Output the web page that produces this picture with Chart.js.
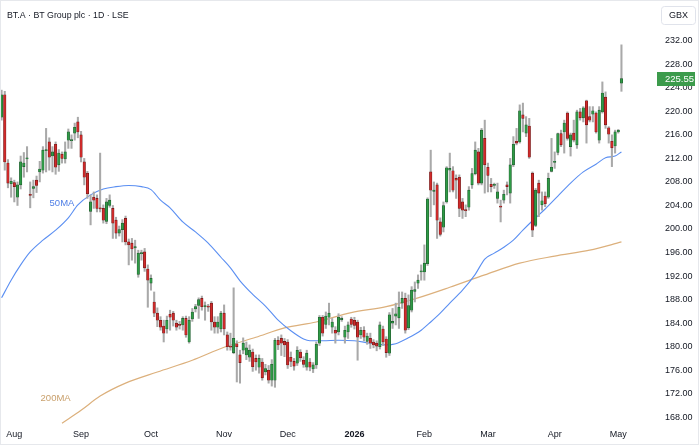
<!DOCTYPE html>
<html>
<head>
<meta charset="utf-8">
<title>BT.A · BT Group plc · 1D · LSE</title>
<script src="https://cdn.jsdelivr.net/npm/chart.js@4.4.1/dist/chart.umd.min.js"></script>
<style>
  html, body { margin: 0; padding: 0; background: #fff; }
  #wrap { position: relative; width: 700px; height: 447px; }
</style>
</head>
<body>
<div id="wrap"><canvas id="chart" width="700" height="447"></canvas></div>
<script>
// Chart text
const TITLE = 'BT.A · BT Group plc · 1D · LSE';
const CURRENCY = 'GBX';
const LAST_PRICE = 225.55;

// Daily candles, late Jul 2025 to early May 2026
const OPEN = [
  219.0, 222.8, 211.2, 207.7, 207.9, 205.4, 207.5, 210.6, 211.9, 205.9,
  206.9, 208.3, 209.7, 210.0, 213.3, 214.8, 212.4, 214.4, 210.9, 212.7,
  211.9, 215.1, 215.0, 216.3, 218.2, 216.0, 211.4, 209.5, 203.0, 205.4,
  205.2, 203.6, 203.5, 201.3, 204.0, 203.5, 201.5, 199.3, 199.9, 201.8,
  197.8, 197.6, 196.8, 192.3, 195.8, 196.1, 193.2, 190.8, 187.6, 185.7,
  184.5, 183.5, 183.0, 185.5, 185.7, 184.0, 183.8, 183.7, 184.8, 180.8,
  184.7, 186.4, 187.0, 188.2, 186.8, 186.9, 187.4, 184.2, 183.3, 183.0,
  185.7, 182.0, 180.1, 179.0, 180.5, 178.6, 179.4, 178.6, 178.2, 179.1,
  178.0, 176.5, 177.4, 175.7, 176.0, 174.3, 174.3, 181.1, 181.4, 180.9,
  180.8, 178.2, 177.5, 177.2, 179.1, 177.7, 176.5, 177.4, 176.2, 176.9,
  180.6, 185.0, 183.8, 185.0, 183.3, 182.8, 182.5, 184.6, 181.6, 182.5,
  184.7, 184.5, 184.2, 182.0, 182.8, 180.9, 181.4, 180.8, 180.6, 180.0,
  183.0, 181.3, 178.9, 184.0, 185.2, 184.9, 187.4, 188.2, 183.2, 186.2,
  189.4, 190.8, 192.7, 192.7, 194.1, 209.7, 206.4, 207.5, 201.2, 200.3,
  204.6, 210.0, 209.9, 208.6, 208.8, 204.6, 203.3, 203.7, 207.5, 209.4,
  213.1, 207.8, 215.4, 210.5, 207.6, 207.4, 205.2, 203.9, 204.9, 207.5,
  206.1, 210.9, 214.9, 214.8, 219.4, 216.3, 217.5, 209.5, 200.6, 207.8,
  204.1, 205.6, 205.4, 209.8, 211.3, 213.0, 216.2, 216.5, 219.7, 214.0,
  216.3, 214.3, 219.9, 218.9, 221.8, 219.1, 219.5, 219.7, 215.1, 219.9,
  222.4, 217.2, 214.9, 214.1, 216.5, 224.8
];
const HIGH = [
  223.6, 223.4, 211.8, 208.7, 208.3, 208.0, 212.4, 213.0, 214.0, 208.0,
  208.3, 209.0, 211.5, 214.0, 217.1, 215.5, 214.0, 214.8, 213.5, 213.1,
  214.8, 217.0, 216.0, 218.0, 219.0, 216.6, 212.0, 209.8, 205.8, 206.3,
  205.8, 212.9, 204.1, 205.2, 205.8, 204.0, 202.0, 200.5, 201.6, 202.2,
  198.3, 198.4, 198.1, 196.4, 196.4, 196.7, 193.9, 192.2, 189.3, 186.6,
  185.1, 184.5, 185.2, 186.2, 186.0, 184.5, 184.3, 185.1, 185.2, 185.1,
  186.5, 187.2, 188.3, 188.6, 187.6, 187.2, 187.7, 185.1, 185.1, 186.0,
  187.1, 182.5, 182.3, 190.0, 181.0, 179.4, 181.5, 180.8, 180.3, 179.6,
  178.6, 178.6, 178.0, 177.0, 176.8, 177.8, 181.4, 181.7, 182.0, 181.4,
  181.2, 179.1, 178.0, 180.0, 179.5, 178.3, 179.4, 178.0, 177.3, 180.8,
  185.3, 185.3, 185.9, 187.4, 184.8, 183.4, 185.6, 185.1, 183.5, 184.2,
  185.0, 185.0, 184.5, 183.3, 183.4, 182.3, 182.3, 181.2, 181.0, 184.2,
  183.5, 181.7, 185.8, 186.5, 187.4, 189.3, 189.3, 189.1, 188.8, 190.2,
  191.0, 192.2, 193.9, 197.3, 205.3, 213.4, 208.0, 207.8, 201.9, 204.6,
  210.6, 212.9, 210.6, 209.2, 209.2, 205.2, 204.1, 207.2, 210.3, 214.8,
  213.7, 217.1, 218.5, 211.2, 208.6, 207.8, 207.8, 204.9, 206.6, 208.0,
  212.0, 215.7, 217.1, 221.1, 221.4, 219.1, 218.8, 209.7, 206.9, 208.3,
  206.3, 206.3, 209.5, 215.4, 213.1, 216.3, 216.8, 218.5, 219.9, 216.3,
  218.5, 220.2, 220.5, 220.8, 221.9, 220.8, 220.8, 219.9, 220.8, 225.0,
  223.3, 217.4, 216.0, 216.8, 216.9, 231.3
];
const LOW = [
  218.5, 210.0, 207.0, 205.4, 204.6, 204.0, 206.8, 208.8, 209.7, 203.6,
  205.3, 206.2, 208.0, 209.5, 209.7, 210.0, 209.7, 209.3, 209.8, 211.2,
  211.2, 213.7, 213.7, 215.1, 215.5, 211.4, 207.5, 205.2, 200.7, 203.5,
  202.9, 202.9, 201.0, 200.9, 203.7, 198.4, 198.4, 198.8, 197.8, 197.3,
  193.9, 194.7, 194.2, 191.8, 194.7, 192.8, 186.7, 189.6, 185.1, 183.4,
  182.8, 180.8, 182.3, 182.8, 183.5, 182.8, 183.0, 182.8, 181.6, 180.6,
  184.3, 185.9, 184.8, 186.2, 184.5, 186.0, 182.8, 182.3, 182.3, 182.5,
  182.0, 179.4, 179.4, 178.8, 174.0, 173.8, 178.8, 177.8, 177.5, 175.8,
  176.0, 175.5, 174.3, 175.2, 173.8, 173.3, 173.1, 179.5, 178.5, 178.3,
  176.3, 176.6, 176.0, 176.8, 177.5, 176.5, 176.0, 175.9, 175.6, 176.3,
  180.2, 181.8, 183.1, 183.7, 182.3, 180.6, 182.0, 184.3, 180.6, 181.4,
  183.3, 183.0, 177.7, 181.4, 181.0, 180.4, 179.7, 179.8, 179.3, 179.6,
  180.2, 178.2, 178.5, 183.1, 183.7, 183.1, 186.5, 182.3, 182.9, 185.9,
  187.6, 189.9, 191.3, 191.3, 193.8, 202.1, 204.1, 198.4, 198.8, 199.5,
  204.4, 206.3, 206.3, 205.2, 202.1, 201.8, 202.1, 203.2, 206.9, 209.2,
  207.5, 207.5, 206.1, 206.3, 206.3, 206.9, 204.4, 201.2, 204.4, 205.8,
  204.4, 210.6, 214.3, 214.6, 216.5, 215.7, 212.0, 198.7, 200.4, 202.1,
  203.2, 203.8, 205.2, 209.7, 210.3, 212.6, 214.0, 212.9, 215.1, 212.4,
  214.8, 213.7, 218.5, 218.2, 214.6, 218.2, 218.2, 216.3, 214.6, 219.7,
  217.1, 214.6, 210.6, 212.9, 216.3, 223.4
];
const CLOSE = [
  222.8, 211.4, 207.8, 208.1, 207.2, 207.5, 211.4, 211.2, 212.1, 205.7,
  207.2, 207.4, 210.2, 213.4, 213.5, 212.2, 213.1, 210.5, 212.9, 212.0,
  213.1, 216.5, 215.2, 217.3, 216.5, 212.2, 208.8, 206.0, 204.6, 204.9,
  203.5, 203.4, 201.5, 204.6, 204.9, 201.0, 199.3, 199.9, 201.0, 197.8,
  197.3, 196.6, 197.0, 195.9, 196.0, 193.4, 191.3, 191.6, 185.7, 184.5,
  183.3, 182.3, 184.5, 185.0, 184.5, 183.3, 183.6, 184.8, 182.0, 184.5,
  185.9, 186.8, 188.0, 186.8, 187.0, 186.7, 184.2, 183.3, 184.2, 185.7,
  183.0, 180.0, 179.9, 181.4, 180.0, 177.3, 180.6, 179.8, 179.4, 176.6,
  177.4, 178.0, 174.7, 176.3, 174.3, 177.0, 181.1, 180.3, 180.6, 180.3,
  176.9, 177.5, 176.7, 179.4, 178.1, 177.0, 178.9, 176.5, 176.9, 180.4,
  185.0, 182.3, 185.2, 185.7, 184.2, 182.3, 185.0, 184.8, 182.8, 183.7,
  183.8, 183.6, 181.6, 182.8, 181.6, 181.8, 180.6, 180.3, 180.1, 183.7,
  180.8, 179.0, 185.4, 184.3, 185.6, 186.7, 188.2, 182.8, 187.0, 189.6,
  189.7, 191.3, 192.9, 194.2, 205.1, 206.6, 206.6, 201.5, 199.1, 204.0,
  210.4, 210.3, 206.6, 208.3, 203.5, 203.2, 203.1, 206.6, 209.4, 213.4,
  207.8, 216.8, 210.9, 209.1, 207.2, 207.6, 206.3, 203.7, 205.9, 207.2,
  210.9, 214.4, 214.6, 220.1, 218.8, 217.7, 212.2, 199.8, 206.6, 206.1,
  204.8, 204.3, 208.6, 210.5, 211.5, 216.2, 214.3, 218.0, 215.4, 216.0,
  215.1, 219.9, 218.9, 220.6, 217.7, 218.5, 220.1, 216.5, 220.2, 223.1,
  217.7, 216.1, 213.8, 216.5, 216.8, 225.55
];

// Moving averages sampled along the drawn lines (candle index, price)
const MA50_INDEX = [0, 3, 6, 9, 13, 17, 21, 24, 28, 32, 36, 40, 44, 47, 50, 53, 57, 61, 65, 69,
  72, 75, 79, 83, 87, 91, 95, 97, 101, 106, 111, 116, 121, 124, 128, 132, 135, 138, 141, 145,
  149, 152, 155, 158, 161, 164, 167, 171, 175, 179, 183, 187, 190, 193, 195];
const MA50_VALUE = [188.3, 191.3, 193.9, 196.1, 198.1, 199.8, 201.9, 204.1, 205.8, 206.8,
  207.2, 207.4, 207.2, 206.7, 204.9, 203.6, 201.2, 199.5, 197.6, 195.2,
  193.4, 191.2, 188.9, 186.9, 184.5, 182.7, 181.3, 181.0, 181.0, 181.1,
  181.0, 180.6, 180.3, 180.5, 181.5, 182.8, 184.2, 185.7, 187.4, 189.6,
  192.3, 194.9, 195.9, 196.9, 198.1, 199.8, 201.4, 203.4, 205.6, 207.8,
  209.7, 211.0, 212.1, 212.4, 213.1];
const MA200_INDEX = [19, 25, 31, 39, 49, 60, 70, 80, 89, 99, 110, 121, 131, 141, 152, 163, 174, 185, 195];
const MA200_VALUE = [167.0, 169.2, 171.6, 173.8, 175.7, 177.7, 179.9, 181.6, 183.2, 184.2,
  185.8, 186.8, 188.3, 190.1, 192.2, 194.2, 195.4, 196.4, 197.8];

// Axes
const MONTHS = ['Aug', 'Sep', 'Oct', 'Nov', 'Dec', '2026', 'Feb', 'Mar', 'Apr', 'May'];
const MONTH_INDEX = [4, 25, 47, 70, 90, 111, 133, 153, 174, 194];
const SLOTS = 207; // candles plus empty space on the right
const Y_TICKS = [168, 172, 176, 180, 184, 188, 192, 196, 200, 204, 208, 212, 216, 220, 224, 228, 232];

const FONT = '"Liberation Sans", Arial, sans-serif';
const TEXT = '#131722';
const UP = '#2f9a46', DOWN = '#d02a2a';
const UP_EDGE = '#1f5a2d', DOWN_EDGE = '#6b1616';

// Helpers
function sparse(idx, vals) {
    const out = new Array(SLOTS).fill(null);
    idx.forEach((k, j) => { out[k] = vals[j]; });
    return out;
}

const labels = new Array(SLOTS).fill('');
MONTH_INDEX.forEach((k, j) => { labels[k] = MONTHS[j]; });

const isUp = OPEN.map((o, i) => CLOSE[i] >= o);

// Labels, currency box, last price tag
const decor = {
    id: 'decor',
    afterDraw(chart) {
        const { ctx, chartArea, scales } = chart;
        const x = scales.x, y = scales.y;
        ctx.save();

        ctx.font = '8.8px ' + FONT;
        ctx.fillStyle = TEXT;
        ctx.textAlign = 'left';
        ctx.textBaseline = 'middle';
        ctx.fillText(TITLE, 7, 16);

        ctx.font = '9.5px ' + FONT;
        ctx.fillStyle = '#4f7fe6';
        ctx.textAlign = 'center';
        ctx.fillText('50MA', x.getPixelForValue(19), y.getPixelForValue(204.4));
        ctx.fillStyle = '#c9a06c';
        ctx.fillText('200MA', x.getPixelForValue(17), y.getPixelForValue(171.3));

        // currency box
        const bx = chartArea.right + 3, bw = chart.width - bx - 5;
        ctx.strokeStyle = '#e0e3eb';
        ctx.lineWidth = 1;
        ctx.beginPath();
        ctx.roundRect(bx + 0.5, 6.5, bw, 18, 3);
        ctx.stroke();
        ctx.fillStyle = TEXT;
        ctx.font = '9px ' + FONT;
        ctx.fillText(CURRENCY, bx + bw / 2 + 0.5, 16);

        // last price tag
        const py = y.getPixelForValue(LAST_PRICE);
        ctx.fillStyle = '#3c9b4c';
        ctx.fillRect(chartArea.right - 1, Math.round(py) - 7, chart.width - chartArea.right - 4, 14);
        ctx.fillStyle = '#ffffff';
        ctx.textAlign = 'left';
        ctx.font = '9.5px ' + FONT;
        ctx.fillText(LAST_PRICE.toFixed(2), chartArea.right + 7, Math.round(py));

        // frame
        ctx.strokeStyle = '#e6e8ec';
        ctx.strokeRect(0.5, 0.5, chart.width - 2, chart.height - 3);
        ctx.restore();
    }
};

new Chart(document.getElementById('chart'), {
    type: 'bar',
    data: {
        labels: labels,
        datasets: [
            {
                label: 'Body',
                data: OPEN.map((o, i) => [o, CLOSE[i]]),
                backgroundColor: isUp.map(u => u ? UP : DOWN),
                borderColor: isUp.map(u => u ? UP_EDGE : DOWN_EDGE),
                borderWidth: 0.6,
                borderSkipped: false,
                barThickness: 2.5,
                minBarLength: 1,
                grouped: false,
                order: 1
            },
            {
                label: 'Wick',
                data: LOW.map((l, i) => [l, HIGH[i]]),
                backgroundColor: '#a9a9a9',
                barThickness: 1.4,
                grouped: false,
                order: 2
            },
            {
                type: 'line',
                label: '50MA',
                data: sparse(MA50_INDEX, MA50_VALUE),
                borderColor: '#5b8ff2',
                borderWidth: 1.1,
                pointRadius: 0,
                spanGaps: true,
                cubicInterpolationMode: 'monotone',
                order: 3
            },
            {
                type: 'line',
                label: '200MA',
                data: sparse(MA200_INDEX, MA200_VALUE),
                borderColor: '#dcb07c',
                borderWidth: 1.2,
                pointRadius: 0,
                spanGaps: true,
                cubicInterpolationMode: 'monotone',
                order: 3
            }
        ]
    },
    options: {
        responsive: false,
        animation: false,
        devicePixelRatio: 1,
        layout: { padding: 0 },
        plugins: {
            legend: { display: false },
            tooltip: { enabled: false }
        },
        scales: {
            x: {
                type: 'category',
                offset: true,
                grid: { display: false, drawTicks: false },
                border: { display: false },
                ticks: {
                    autoSkip: false,
                    maxRotation: 0,
                    minRotation: 0,
                    padding: 5,
                    color: TEXT,
                    font: ctx => ({ family: FONT, size: 9, weight: (ctx.tick && ctx.tick.label === '2026') ? 'bold' : 'normal' })
                },
                afterFit: s => { s.height = 23; s.paddingLeft = 0; s.paddingRight = 0; }
            },
            y: {
                position: 'right',
                min: 166.86,
                max: 238.92,
                grid: { display: false, drawTicks: false },
                border: { display: false },
                ticks: {
                    padding: 7,
                    color: TEXT,
                    font: { family: FONT, size: 9 },
                    callback: v => Number(v).toFixed(2)
                },
                afterBuildTicks: s => { s.ticks = Y_TICKS.map(v => ({ value: v })); },
                afterFit: s => { s.width = 42; s.paddingTop = 0; s.paddingBottom = 0; }
            }
        }
    },
    plugins: [decor]
});
</script>
</body>
</html>
